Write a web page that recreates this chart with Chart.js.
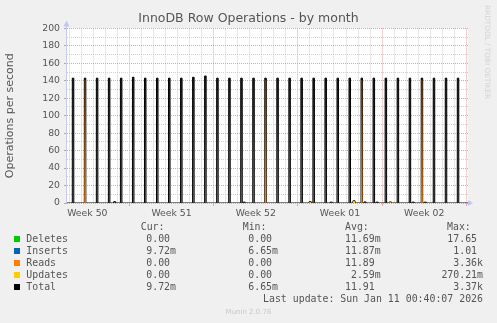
<!DOCTYPE html>
<html>
<head>
<meta charset="utf-8">
<title>InnoDB Row Operations - by month</title>
<script src="https://cdn.jsdelivr.net/npm/chart.js@4.4.1/dist/chart.umd.min.js"></script>
<style>
  html, body { margin:0; padding:0; background:#f0f0f0; }
  #wrap { position:relative; width:497px; height:323px; overflow:hidden; }
  #chart { position:absolute; left:0; top:0; }
  .lg { position:absolute; font:9.9px 'DejaVu Sans Mono', monospace; color:#555; line-height:12px; white-space:pre; }
  .sw { position:absolute; width:6px; height:6px; }
  #ver { position:absolute; left:0; width:497px; top:306px; text-align:center; font:7px 'DejaVu Sans', sans-serif; color:#c8c8c8; line-height:12px; }
</style>
</head>
<body>
<div id="wrap">
  <canvas id="chart" width="497" height="323"></canvas>
  <div id="legend"></div>
  <div id="ver">Munin 2.0.76</div>
</div>
<script>
'use strict';

// ── DATA ─────────────────────────────────────────────────
// x is in days counted from Mon 8 Dec 2025 (start of week 50)
const X_MIN = 1.81, X_MAX = 35.14;
const PEAK_W = 0.125;   // one daily peak, in days
const BUMP_W = 0.17;

const spikeDay = [
  2.25, 3.25, 4.25, 5.25, 6.25, 7.25, 8.25, 9.25, 10.25, 11.25, 12.25,
  13.25, 14.25, 15.25, 16.25, 17.25, 18.25, 19.25, 20.25, 21.25, 22.25,
  23.25, 24.25, 25.25, 26.25, 27.25, 28.25, 29.25, 30.25, 31.25, 32.25,
  33.25, 34.25
];
const totalPeak = [
  143, 143, 143, 143, 143, 144, 143, 143, 143, 143, 144,
  145.5, 143, 143, 143, 143, 143, 143, 143, 143, 143,
  143, 143, 143, 143, 143, 143, 143, 143, 143, 143,
  143, 143
];
const readsPeak = [
  0, 141, 0, 0, 0, 0, 0, 0, 0, 0, 0,
  0, 0, 0, 0, 0, 141, 0, 0, 0, 0,
  0, 0, 0, 141, 0, 0, 0, 0, 141, 0,
  0, 0
];
// small activity between the nightly peaks
const bumpDay     = [5.69, 16.45, 21.94, 23.69, 25.58, 26.5, 27.5, 28.6, 30.5, 31.5];
const bumpTotal   = [1.5,  1,     1.5,   1,     2.5,   1.2,  1,    1.2,  1,    1];
const bumpUpdates = [0,    0,     1,     0,     2,     0,    0,    1,    0,    0];

const weekCenters = [3.5, 10.5, 17.5, 24.5, 31.5];
const weekLabels  = ['Week 50', 'Week 51', 'Week 52', 'Week 01', 'Week 02'];

const seriesNames  = ['Deletes', 'Inserts', 'Reads', 'Updates', 'Total'];
const seriesColors = ['#00cc00', '#0066b3', '#ff8000', '#ffcc00', '#000000'];
const curVals = ['0.00 ', '9.72m', '0.00 ', '0.00 ', '9.72m'];
const minVals = ['0.00 ', '6.65m', '0.00 ', '0.00 ', '6.65m'];
const avgVals = ['11.69m', '11.87m', '11.89 ', '2.59m', '11.91 '];
const maxVals = ['17.65 ', '1.01 ', '3.36k', '270.21m', '3.37k'];
const lastUpdate = 'Last update: Sun Jan 11 00:40:07 2026';

const FONT = "'DejaVu Sans', sans-serif";
const MAJOR = '#e6a4a4', MINOR = '#cfcfcf';
const NONE = 'rgba(0,0,0,0)';

// ── HELPERS ──────────────────────────────────────────────
function pulses(days, vals, width){
  const pts = [];
  days.forEach((d, i) => {
    if (vals[i] > 0) pts.push({x:d, y:vals[i]}, {x:d + width, y:0});
  });
  return pts;
}
function series(...groups){
  const pts = [{x:X_MIN, y:0}].concat(...groups, [{x:X_MAX, y:0}]);
  return pts.sort((a, b) => a.x - b.x);
}
function vGradient(stops){
  return c => {
    const {ctx, chartArea} = c.chart;
    if (!chartArea) return stops[stops.length - 1][1];
    const g = ctx.createLinearGradient(0, chartArea.top, 0, chartArea.bottom);
    stops.forEach(s => g.addColorStop(s[0], s[1]));
    return g;
  };
}
const isMajor = v => Math.abs(v % 7) < 1e-6;
const isDay = v => Math.abs(v - Math.round(v)) < 1e-6;

// ── FRAME PLUGIN (white plot, axis arrows, rrdtool credit) ──
const muninFrame = {
  id:'muninFrame',
  beforeDraw(chart){
    const {ctx, chartArea:a} = chart;
    ctx.save();
    ctx.fillStyle = '#ffffff';
    ctx.fillRect(a.left, a.top, a.right - a.left, a.bottom - a.top);
    ctx.restore();
  },
  afterDraw(chart){
    const {ctx, chartArea:a} = chart;
    ctx.save();
    ctx.strokeStyle = '#c8c8f4';
    ctx.lineWidth = 1;
    ctx.beginPath();
    ctx.moveTo(a.left - 0.5, a.bottom);
    ctx.lineTo(a.left - 0.5, a.top - 3);
    ctx.stroke();
    ctx.fillStyle = '#c4c4f4';
    ctx.beginPath();
    ctx.moveTo(a.left - 3.5, a.top - 2);
    ctx.lineTo(a.left + 2.5, a.top - 2);
    ctx.lineTo(a.left - 0.5, a.top - 8);
    ctx.fill();
    ctx.beginPath();
    ctx.moveTo(a.right, a.bottom - 3);
    ctx.lineTo(a.right, a.bottom + 3);
    ctx.lineTo(a.right + 5, a.bottom);
    ctx.fill();
    ctx.translate(487, 5);
    ctx.rotate(Math.PI / 2);
    ctx.font = "7.3px 'DejaVu Sans'";
    ctx.fillStyle = '#d4d4d4';
    ctx.textBaseline = 'middle';
    ctx.fillText('RRDTOOL / TOBI OETIKER', 0, 0);
    ctx.restore();
  }
};

// ── CHART ────────────────────────────────────────────────
new Chart(document.getElementById('chart').getContext('2d'), {
  type:'line',
  data:{
    datasets:[
      {
        label:'Total',
        data:series(pulses(spikeDay, totalPeak, PEAK_W), pulses(bumpDay, bumpTotal, BUMP_W)),
        stepped:true,
        borderColor:'#000000',
        borderWidth:1,
        backgroundColor:vGradient([[0, '#000'], [0.3, '#222'], [1, '#9a9a9a']]),
        fill:'origin',
        pointRadius:0,
        order:1
      },
      {
        label:'Reads',
        data:series(pulses(spikeDay, readsPeak, PEAK_W)),
        stepped:true,
        borderWidth:0,
        borderColor:NONE,
        backgroundColor:vGradient([[0.3, '#5a3410'], [1, '#ff8000']]),
        fill:'origin',
        pointRadius:0,
        order:0
      },
      {
        label:'Updates',
        data:series(pulses(bumpDay, bumpUpdates, BUMP_W)),
        stepped:true,
        borderWidth:0,
        borderColor:NONE,
        backgroundColor:'#ffcc00',
        fill:'origin',
        pointRadius:0,
        order:0
      }
    ]
  },
  options:{
    responsive:false,
    animation:false,
    events:[],
    layout:{ padding:{ left:0, top:0, right:0, bottom:100 } },
    plugins:{
      legend:{ display:false },
      tooltip:{ enabled:false },
      title:{
        display:true,
        text:'InnoDB Row Operations - by month',
        color:'#555',
        font:{ family:FONT, size:12.5, weight:'normal' },
        padding:{ top:11.5, bottom:1.9 }
      }
    },
    scales:{
      x:{
        type:'linear',
        min:X_MIN, max:X_MAX,
        afterFit(s){ s.height = 20; },
        afterBuildTicks(s){
          const t = [];
          for (let d = Math.ceil(X_MIN); d <= X_MAX; d++) t.push({value:d});
          weekCenters.forEach(v => t.push({value:v}));
          s.ticks = t.sort((a, b) => a.value - b.value);
        },
        ticks:{
          autoSkip:false, maxRotation:0, padding:2,
          color:'#555', font:{ family:FONT, size:9.3 },
          callback:v => {
            const i = weekCenters.indexOf(v);
            return i >= 0 ? weekLabels[i] : '';
          }
        },
        grid:{
          color:c => !c.tick ? MINOR : (!isDay(c.tick.value) ? NONE : (isMajor(c.tick.value) ? MAJOR : MINOR)),
          tickColor:c => (c.tick && isMajor(c.tick.value)) ? MAJOR : NONE,
          tickLength:3
        },
        border:{ display:false, dash:[1, 1] }
      },
      y:{
        min:0, max:200,
        afterFit(s){ s.width = 67; },
        ticks:{
          stepSize:10, autoSkip:false, padding:4,
          color:'#555', font:{ family:FONT, size:9.3 },
          callback:v => (v % 20 === 0 ? v : '')
        },
        grid:{
          color:c => (c.tick && c.tick.value % 20 === 0) ? MAJOR : MINOR,
          tickColor:c => (c.tick && c.tick.value % 20 === 0) ? '#aaa' : NONE,
          tickLength:3
        },
        border:{ display:false, dash:[1, 1] },
        title:{
          display:true,
          text:'Operations per second',
          color:'#555',
          font:{ family:FONT, size:11 },
          padding:{ top:4, bottom:0 }
        }
      },
      // empty right-hand margin, keeps the title centred on the canvas
      yMargin:{
        position:'right',
        min:0, max:200,
        afterFit(s){ s.width = 29; },
        ticks:{ display:false },
        grid:{ display:false },
        border:{ display:false }
      }
    }
  },
  plugins:[ muninFrame ]
});

// ── LEGEND TABLE ─────────────────────────────────────────
const legend = document.getElementById('legend');
function cell(text, left, right, centerY){
  const el = document.createElement('div');
  el.className = 'lg';
  el.textContent = text;
  el.style.top = (centerY - 6) + 'px';
  if (right != null) { el.style.right = (497 - right) + 'px'; el.style.textAlign = 'right'; }
  else el.style.left = left + 'px';
  legend.appendChild(el);
}
cell('Cur:', 140.7, null, 227.3);
cell('Min:', 242.7, null, 227.3);
cell('Avg:', 345, null, 227.3);
cell('Max:', 447, null, 227.3);
seriesNames.forEach((name, i) => {
  const y = 239.3 + i * 12;
  const sw = document.createElement('div');
  sw.className = 'sw';
  sw.style.left = '14px';
  sw.style.top = (y - 3) + 'px';
  sw.style.background = seriesColors[i];
  legend.appendChild(sw);
  cell(name, 26.3, null, y);
  cell(curVals[i], null, 176, y);
  cell(minVals[i], null, 278, y);
  cell(avgVals[i], null, 380.7, y);
  cell(maxVals[i], null, 483, y);
});
cell(lastUpdate, null, 483, 299.3);
</script>
</body>
</html>
